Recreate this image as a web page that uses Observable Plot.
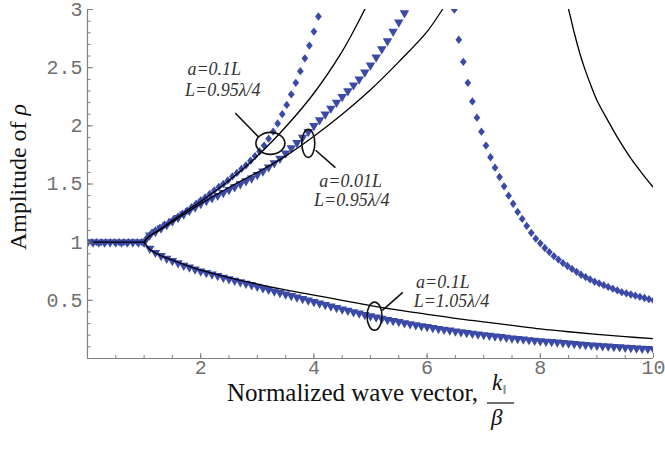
<!DOCTYPE html>
<html><head><meta charset="utf-8">
<script src="https://cdn.jsdelivr.net/npm/d3@7"></script>
<script src="https://cdn.jsdelivr.net/npm/@observablehq/plot@0.6"></script>
<style>html,body{margin:0;padding:0;background:#fff;} svg{display:block;}</style>
</head><body><div id="chart"></div>
<script>
// ---------- tick labels ----------
const xTickLabels = [2, 4, 6, 8, 10];
const yTickLabels = [0.5, 1, 1.5, 2, 2.5, 3];
const xMinorTicks = [0.5,1,1.5,2,2.5,3,3.5,4,4.5,5,5.5,6,6.5,7,7.5,8,8.5,9,9.5,10];
const yMinorTicks = [0.1,0.2,0.3,0.4,0.5,0.6,0.7,0.8,0.9,1,1.1,1.2,1.3,1.4,1.5,1.6,1.7,1.8,1.9,2,
                     2.1,2.2,2.3,2.4,2.5,2.6,2.7,2.8,2.9,3];

// ---------- blue triangle series (sampled every 0.1) ----------
// a=0.01L, L=0.95λ/4 : x = 0 .. 5.7
const triUpperY = [1,1,1,1,1,1,1,1,1,1,
  1.00,1.06,1.09,1.12,1.15,1.18,1.21,1.24,1.27,1.30,
  1.33,1.355,1.38,1.40,1.425,1.45,1.475,1.50,1.525,1.55,
  1.58,1.61,1.645,1.68,1.72,1.765,1.81,1.855,1.90,1.95,
  2.00,2.05,2.10,2.15,2.20,2.25,2.30,2.35,2.40,2.46,
  2.52,2.59,2.66,2.73,2.81,2.89,2.97,3.06];
// a=0.1L, L=1.05λ/4 : x = 1.0 .. 10.0
const triLowerY = [1.000,0.945,0.910,0.883,0.860,0.840,0.820,0.800,0.784,0.767,
  0.750,0.737,0.724,0.711,0.697,0.684,0.671,0.658,0.645,0.632,
  0.619,0.605,0.592,0.579,0.566,0.553,0.540,0.527,0.514,0.501,
  0.488,0.475,0.462,0.449,0.436,0.424,0.412,0.400,0.388,0.376,
  0.365,0.355,0.344,0.334,0.324,0.315,0.306,0.297,0.288,0.280,
  0.272,0.264,0.256,0.249,0.242,0.235,0.228,0.221,0.215,0.209,
  0.203,0.197,0.191,0.186,0.180,0.175,0.170,0.165,0.160,0.155,
  0.151,0.147,0.143,0.139,0.135,0.131,0.127,0.123,0.119,0.115,
  0.111,0.108,0.105,0.101,0.098,0.095,0.092,0.089,0.086,0.083,
  0.080];

// ---------- blue diamond series a=0.1L, L=0.95λ/4 (sampled every 0.08) ----------
// x = 0 .. 4.16
const diaRiseY = [1,1,1,1,1,1,1,1,1,1,1,1,1,
  1.03,1.07,1.10,1.125,1.15,1.17,1.195,1.22,1.245,1.27,
  1.30,1.33,1.36,1.385,1.415,1.445,1.475,1.50,1.53,1.565,
  1.595,1.63,1.66,1.70,1.74,1.78,1.83,1.89,1.95,2.02,
  2.10,2.18,2.27,2.37,2.47,2.58,2.69,2.81,2.94,3.07];
// x = 6.48 .. 10.0
const diaFallY = [3.00,2.74,2.55,2.37,2.21,2.07,1.95,1.83,1.73,1.64,
  1.56,1.48,1.40,1.33,1.26,1.20,1.14,1.08,1.03,0.99,
  0.95,0.915,0.88,0.85,0.82,0.795,0.77,0.745,0.72,0.70,
  0.68,0.66,0.645,0.63,0.615,0.60,0.585,0.57,0.56,0.55,
  0.54,0.53,0.52,0.51,0.50];

// ---------- black theory curves [x, y] ----------
const blackFlat = [[0,1],[1,1]];
const blackUpperA = [[1,1],[1.1,1.055],[1.25,1.10],[1.5,1.185],[1.75,1.27],[2,1.35],[2.5,1.53],
  [3,1.74],[3.5,1.99],[4,2.28],[4.5,2.64],[4.75,2.86],[5,3.1]];
const blackUpperB = [[1,1],[1.1,1.055],[1.25,1.095],[1.5,1.175],[2,1.33],[2.5,1.47],[3,1.60],
  [3.5,1.74],[4,1.91],[4.5,2.10],[5,2.31],[5.5,2.55],[6,2.81],[6.27,3.0],[6.4,3.1]];
const blackLower = [[1,1],[1.1,0.94],[1.25,0.895],[1.5,0.845],[2,0.76],[2.5,0.695],[3,0.64],
  [3.5,0.59],[4,0.545],[4.5,0.50],[5,0.455],[5.5,0.415],[6,0.38],[6.5,0.345],[7,0.315],
  [7.5,0.285],[8,0.255],[8.5,0.23],[9,0.208],[9.5,0.188],[10,0.17]];
const blackFall = [[8.45,3.08],[8.5,3.0],[8.6,2.80],[8.7,2.62],[8.8,2.47],[8.9,2.34],[9,2.22],
  [9.2,2.04],[9.4,1.87],[9.6,1.72],[9.8,1.59],[10,1.47]];

// ---------- annotations (data coordinates) ----------
const annotLabels = [
  {x: 2.24, y: 2.486, text: "a=0.1L"},
  {x: 2.39, y: 2.31,  text: "L=0.95λ/4"},
  {x: 4.65, y: 1.52,  text: "a=0.01L"},
  {x: 4.67, y: 1.357, text: "L=0.95λ/4"},
  {x: 6.28, y: 0.659, text: "a=0.1L"},
  {x: 6.43, y: 0.495, text: "L=1.05λ/4"}
];
const annotLeaders = [
  {x1: 2.61, y1: 2.11, x2: 3.02, y2: 1.905},
  {x1: 4.03, y1: 1.79, x2: 4.38, y2: 1.64},
  {x1: 5.21, y1: 0.414, x2: 5.57, y2: 0.569}
];
const annotEllipses = [
  {x: 3.24, y: 1.845},
  {x: 3.91, y: 1.845},
  {x: 5.08, y: 0.36}
];
const ellipseRadii = [[14.5, 11], [6.5, 14], [7.5, 14]];

// ---------- build tables ----------
const pts = (arr, x0, step) => arr.map((y, i) => ({x: +(x0 + i * step).toFixed(3), y}));
const triUpper = pts(triUpperY, 0, 0.1);
const triLower = pts(triLowerY, 1, 0.1);
const diaRise = pts(diaRiseY, 0, 0.08);
const diaFall = pts(diaFallY, 6.48, 0.08);
const toObj = arr => arr.map(([x, y]) => ({x, y}));

const W = 665, H = 453, mL = 87, mR = 12, mT = 9, mB = 95;
const plotW = W - mL - mR, plotH = H - mT - mB;
const blue = "#3b4aa7";
const axisGray = "#808080";
const SERIF = "'Liberation Serif', 'Times New Roman', Times, serif";
const MONO = "'Liberation Mono', 'Courier New', Courier, monospace";

const triDown = {draw(ctx, size) {
  const r = Math.sqrt(size / Math.PI), a = r * 1.25;
  ctx.moveTo(-a, -a * 0.577); ctx.lineTo(a, -a * 0.577); ctx.lineTo(0, a * 1.155); ctx.closePath();
}};
const diamond = {draw(ctx, size) {
  const r = Math.sqrt(size / Math.PI), w = r * 1.05, h = r * 1.3;
  ctx.moveTo(0, -h); ctx.lineTo(w, 0); ctx.lineTo(0, h); ctx.lineTo(-w, 0); ctx.closePath();
}};

const lineOpts = {x: "x", y: "y", stroke: "#000", strokeWidth: 1.3, curve: "catmull-rom", clip: true};

const plot = Plot.plot({
  width: W, height: H,
  marginLeft: mL, marginRight: mR, marginTop: mT, marginBottom: mB,
  x: {domain: [0, 10], axis: null},
  y: {domain: [0, 3], axis: null},
  style: {background: "#fff"},
  marks: [
    Plot.dot(triUpper, {x: "x", y: "y", symbol: triDown, r: 3.8, fill: blue, stroke: "none", clip: true}),
    Plot.dot(triLower, {x: "x", y: "y", symbol: triDown, r: 3.8, fill: blue, stroke: "none", clip: true}),
    Plot.dot(diaRise, {x: "x", y: "y", symbol: diamond, r: 3.2, fill: blue, stroke: "none", clip: true}),
    Plot.dot(diaFall, {x: "x", y: "y", symbol: diamond, r: 3.2, fill: blue, stroke: "none", clip: true}),
    Plot.line(toObj(blackFlat), lineOpts),
    Plot.line(toObj(blackUpperA), lineOpts),
    Plot.line(toObj(blackUpperB), lineOpts),
    Plot.line(toObj(blackLower), lineOpts),
    Plot.line(toObj(blackFall), lineOpts),
    Plot.link(annotLeaders, {x1: "x1", y1: "y1", x2: "x2", y2: "y2", stroke: "#111", strokeWidth: 1.6}),
    Plot.text(annotLabels, {x: "x", y: "y", text: "text", fontFamily: SERIF,
      fontStyle: "italic", fontSize: 18, fill: "#333"}),
    // axes
    Plot.ruleY([0], {stroke: axisGray, strokeWidth: 1.2}),
    Plot.ruleX([0], {stroke: axisGray, strokeWidth: 1.2}),
    Plot.tickX(xMinorTicks, {x: d => d, insetTop: plotH - 3, stroke: axisGray}),
    Plot.tickX(xTickLabels, {x: d => d, insetTop: plotH - 5, stroke: axisGray}),
    Plot.tickY(yMinorTicks, {y: d => d, insetRight: plotW - 3.5, stroke: axisGray}),
    Plot.tickY(yTickLabels, {y: d => d, insetRight: plotW - 6, stroke: axisGray}),
    Plot.text(xTickLabels, {x: d => d, frameAnchor: "bottom", dy: 15, text: d => String(d),
      fontFamily: MONO, fontSize: 20, fill: "#707070"}),
    Plot.text(yTickLabels, {y: d => d, frameAnchor: "left", dx: -5, textAnchor: "end", text: d => String(d),
      fontFamily: MONO, fontSize: 20, fill: "#707070"})
  ]
});

const svg = d3.select(plot);
const sx = plot.scale("x"), sy = plot.scale("y");
// annotation ellipses placed through the plot's scales
svg.append("g").attr("fill", "none").attr("stroke", "#111").attr("stroke-width", 1.6)
  .selectAll("ellipse").data(annotEllipses).join("ellipse")
  .attr("cx", d => sx.apply(d.x)).attr("cy", d => sy.apply(d.y))
  .attr("rx", (d, i) => ellipseRadii[i][0]).attr("ry", (d, i) => ellipseRadii[i][1]);

// y-axis title
const yt = svg.append("text")
  .attr("transform", "translate(26,177) rotate(-90)")
  .attr("text-anchor", "middle")
  .style("font-family", SERIF).style("font-size", "24px").attr("fill", "#111");
yt.append("tspan").text("Amplitude of ");
yt.append("tspan").style("font-style", "italic").text("ρ");

// x-axis title with fraction
const g = svg.append("g").style("font-family", SERIF).attr("fill", "#111").attr("text-anchor", "start");
g.append("text").attr("x", 227).attr("y", 401).style("font-size", "25px").text("Normalized wave vector,");
g.append("text").attr("x", 492).attr("y", 390).style("font-size", "23px").style("font-style", "italic").text("k");
g.append("text").attr("x", 503).attr("y", 392).style("font-size", "10px").style("letter-spacing", "-1px").text("||");
g.append("line").attr("x1", 487).attr("x2", 514).attr("y1", 403).attr("y2", 403)
  .attr("stroke", "#111").attr("stroke-width", 1.2);
g.append("text").attr("x", 491).attr("y", 425).style("font-size", "23px").style("font-style", "italic").text("β");

document.getElementById("chart").appendChild(plot);
</script></body></html>
